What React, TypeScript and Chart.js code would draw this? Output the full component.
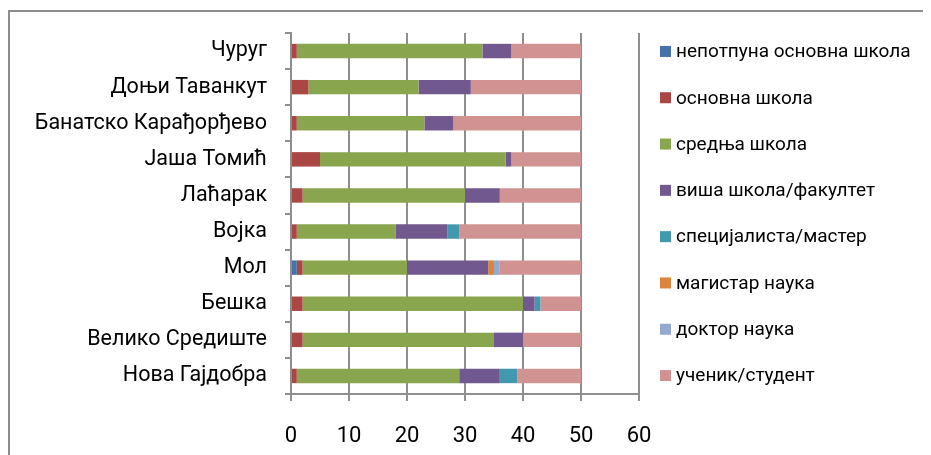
import React, { useEffect, useRef } from "react";
import { Chart, registerables } from "chart.js";

Chart.register(...registerables);

const categories = [
  "Чуруг",
  "Доњи Таванкут",
  "Банатско Карађорђево",
  "Јаша Томић",
  "Лаћарак",
  "Војка",
  "Мол",
  "Бешка",
  "Велико Средиште",
  "Нова Гајдобра",
];

const seriesNames = [
  "непотпуна основна школа",
  "основна школа",
  "средња школа",
  "виша школа/факултет",
  "специјалиста/мастер",
  "магистар наука",
  "доктор наука",
  "ученик/студент",
];

const nepotpunaOsnovna = [0, 0, 0, 0, 0, 0, 1, 0, 0, 0];
const osnovna = [1, 3, 1, 5, 2, 1, 1, 2, 2, 1];
const srednja = [32, 19, 22, 32, 28, 17, 18, 38, 33, 28];
const visaFakultet = [5, 9, 5, 1, 6, 9, 14, 2, 5, 7];
const specijalista = [0, 0, 0, 0, 0, 2, 0, 1, 0, 3];
const magistar = [0, 0, 0, 0, 0, 0, 1, 0, 0, 0];
const doktor = [0, 0, 0, 0, 0, 0, 1, 0, 0, 0];
const ucenikStudent = [12, 19, 22, 12, 14, 21, 14, 7, 10, 11];

const xTicks = [0, 10, 20, 30, 40, 50, 60];

const seriesColors = [
  "#4572A7",
  "#AA4643",
  "#89A54E",
  "#71588F",
  "#4198AF",
  "#DB843D",
  "#93A9CF",
  "#D19392",
];

const FONT = "Roboto, 'Liberation Sans', Arial, sans-serif";
const GRID = "#8e8e8e";

const legendPlugin = {
  id: "sideLegend",
  afterDraw(chart: any) {
    const { ctx, chartArea } = chart;
    const ds = chart.data.datasets;
    const n = ds.length;
    const step = 46.3;
    const top = (chartArea.top + chartArea.bottom) / 2 - (step * (n - 1)) / 2;
    const boxX = chartArea.right + 21;
    const box = 11;
    ctx.save();
    ctx.font = `19px ${FONT}`;
    ctx.textBaseline = "middle";
    ctx.textAlign = "left";
    for (let i = 0; i < n; i++) {
      const cy = top + i * step;
      ctx.fillStyle = ds[i].backgroundColor;
      ctx.fillRect(boxX, cy - box / 2, box, box);
      ctx.fillStyle = "#000";
      ctx.fillText(ds[i].label, boxX + box + 5, cy + 1);
    }
    ctx.restore();
  },
};

export default function App() {
  const ref = useRef<HTMLCanvasElement | null>(null);

  useEffect(() => {
    if (!ref.current) return;
    const values = [
      nepotpunaOsnovna,
      osnovna,
      srednja,
      visaFakultet,
      specijalista,
      magistar,
      doktor,
      ucenikStudent,
    ];
    const chart = new Chart(ref.current, {
      type: "bar",
      data: {
        labels: categories,
        datasets: values.map((v, i) => ({
          label: seriesNames[i],
          data: v,
          backgroundColor: seriesColors[i],
          borderWidth: 0,
          barPercentage: 0.4,
          categoryPercentage: 1,
        })),
      },
      options: {
        indexAxis: "y",
        animation: false,
        responsive: false,
        maintainAspectRatio: false,
        layout: { padding: { top: 25, right: 292, bottom: 0, left: 0 } },
        plugins: {
          legend: { display: false },
          tooltip: { enabled: false },
        },
        scales: {
          x: {
            stacked: true,
            min: 0,
            max: 60,
            afterBuildTicks: (scale: any) => {
              scale.ticks = xTicks.map((v) => ({ value: v }));
            },
            afterFit: (scale: any) => {
              scale.height = 61;
            },
            grid: {
              color: GRID,
              lineWidth: 2,
              drawTicks: true,
              tickLength: 7,
            },
            border: { display: true, color: GRID, width: 2 },
            ticks: {
              color: "#000",
              font: { family: FONT, size: 22 },
              padding: 22,
              autoSkip: false,
              maxRotation: 0,
            },
          },
          y: {
            stacked: true,
            grid: {
              drawOnChartArea: false,
              drawTicks: true,
              tickLength: 6,
              color: GRID,
              lineWidth: 2,
              offset: true,
            },
            border: { display: true, color: GRID, width: 2 },
            ticks: {
              color: "#000",
              font: { family: FONT, size: 21.5 },
              padding: 18,
              autoSkip: false,
            },
            afterFit: (scale: any) => {
              scale.width = 283;
              scale.paddingTop = 0;
              scale.paddingBottom = 0;
            },
          },
        },
      },
      plugins: [legendPlugin],
    } as any);
    return () => chart.destroy();
  }, []);

  return (
    <div
      style={{
        position: "relative",
        width: 923,
        height: 447,
        overflow: "hidden",
      }}
    >
      <div
        style={{
          position: "absolute",
          left: 0,
          top: 2,
          width: 1000,
          height: 600,
          borderTop: "2px solid #8c8c8c",
          borderLeft: "2px solid #8c8c8c",
          boxSizing: "border-box",
        }}
      />
      <canvas
        ref={ref}
        width={923}
        height={447}
        style={{ position: "absolute", left: 0, top: 0, width: 923, height: 447 }}
      />
    </div>
  );
}
